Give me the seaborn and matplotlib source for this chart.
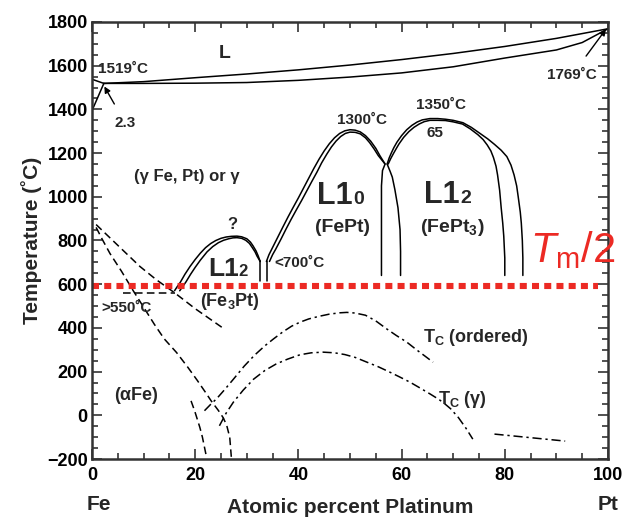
import matplotlib
matplotlib.use("Agg")
import matplotlib.pyplot as plt
import seaborn as sns

# liquidus / solidus (at.% Pt, deg C)
liquidus_x = [2.3, 10, 20, 30, 40, 50, 60, 70, 80, 90, 95, 100]
liquidus_t = [1519, 1527, 1545, 1562, 1581, 1603, 1628, 1656, 1688, 1725, 1747, 1769]
solidus_x = [2.3, 10, 20, 30, 40, 50, 60, 70, 80, 90, 95, 100]
solidus_t = [1519, 1519, 1520, 1523, 1533, 1548, 1567, 1595, 1635, 1672, 1706, 1769]
delta_lo_x = [0, 2.3]
delta_lo_t = [1394, 1519]
delta_hi_x = [0, 2.3]
delta_hi_t = [1538, 1519]

# Fe3Pt (L1_2) dome, two lines
fe3pt_a_x = [16.0, 16.5, 17.1, 18.0, 19.0, 20.0, 21.0, 22.0, 23.0, 24.0, 25.0, 26.0, 27.0,
             28.1, 29.0, 30.0, 30.7, 31.2, 31.8, 32.2, 32.6]
fe3pt_a_t = [570, 588, 608, 645, 681, 713, 742, 767, 786, 800, 810, 816, 819,
             820, 817, 808, 793, 776, 752, 730, 704]
fe3pt_b_x = [17.0, 17.6, 18.2, 19.1, 20.0, 21.0, 22.3, 23.4, 24.5, 25.5, 26.5, 27.3,
             28.1, 29.0, 29.8, 30.5, 31.0, 31.6, 32.0, 32.6]
fe3pt_b_t = [570, 590, 610, 645, 677, 710, 748, 772, 790, 801, 808, 812,
             813, 810, 801, 787, 770, 748, 728, 704]
vert1_x = [32.6, 32.6]
vert1_t = [704, 615]
vert2_x = [34.0, 34.0]
vert2_t = [704, 615]

# FePt (L1_0) dome
l10_a_x = [33.8, 34.3, 35.0, 36.0, 37.0, 38.0, 39.0, 40.0, 41.0, 42.0, 43.0, 44.0, 45.0,
           46.0, 47.0, 48.0, 49.0, 50.0, 51.0, 52.0, 53.0, 54.0, 55.0, 55.8, 56.8,
           56.3, 56.1, 56.1]
l10_a_t = [704, 735, 768, 815, 862, 908, 952, 995, 1040, 1085, 1130, 1172, 1210,
           1243, 1270, 1290, 1302, 1307, 1305, 1297, 1280, 1255, 1222, 1188, 1150,
           1120, 1050, 640]
l10_b_x = [34.4, 35.0, 35.6, 36.6, 37.6, 38.6, 39.6, 40.6, 41.6, 42.6, 43.6, 44.5, 45.5,
           46.4, 47.3, 48.2, 49.1, 50.0, 51.0, 52.0, 53.0, 53.8, 54.7, 55.5, 56.8]
l10_b_t = [704, 735, 760, 805, 852, 897, 940, 982, 1026, 1070, 1113, 1155, 1195,
           1228, 1255, 1276, 1290, 1296, 1295, 1288, 1270, 1248, 1218, 1188, 1150]

# FePt3 (L1_2) dome
fept3_a_x = [57.2, 57.6, 58.0, 58.5, 59.1, 60.0, 61.0, 62.0, 63.0, 64.0, 65.5, 67.0, 68.5,
             70.0, 71.9, 73.5, 75.2, 76.7, 78.0, 79.3, 80.4, 81.2, 81.8, 82.3, 82.6,
             83.0, 83.2, 83.4, 83.5, 83.5]
fept3_a_t = [1150, 1178, 1200, 1225, 1250, 1280, 1307, 1327, 1342, 1352, 1358, 1358, 1355,
             1350, 1339, 1318, 1290, 1265, 1240, 1213, 1184, 1145, 1100, 1050, 1000,
             930, 880, 800, 720, 640]
fept3_b_x = [57.4, 57.9, 58.4, 59.0, 59.5, 60.4, 61.4, 62.4, 63.4, 64.4, 65.5, 67.0, 68.5,
             70.0, 71.8, 73.3, 74.8, 75.8, 76.6, 77.3, 77.8, 78.3, 78.6, 79.0, 79.3,
             79.6, 79.8, 80.0, 80.0]
fept3_b_t = [1150, 1175, 1197, 1222, 1242, 1272, 1298, 1318, 1333, 1344, 1350, 1350, 1349,
             1343, 1333, 1311, 1284, 1262, 1237, 1210, 1180, 1140, 1100, 1030, 950,
             880, 820, 720, 640]
l12_left_x = [57.2, 57.8, 58.2, 58.7, 59.3, 59.7, 59.8, 59.8]
l12_left_t = [1150, 1115, 1090, 1033, 950, 850, 750, 640]

# dashed lines
dash_a_x = [0.8, 5.0, 9.3, 12.5, 16.0, 20.0, 25.7]
dash_a_t = [873, 778, 681, 620, 561, 488, 394]
dash_b_x = [0.8, 2.0, 3.5, 5.7, 8.0, 10.0, 12.1, 14.0, 16.4, 18.6, 20.4, 22.0, 23.1,
            24.5, 25.4, 26.1, 26.7, 27.0]
dash_b_t = [860, 805, 740, 660, 570, 495, 416, 350, 287, 219, 160, 105, 66,
            22, -10, -45, -101, -190]
dash_c_x = [19.2, 19.9, 20.5, 20.9, 21.4, 22.2]
dash_c_t = [66, 20, -25, -55, -100, -192]
dash_h_x = [6, 16]
dash_h_t = [562, 562]

# Curie temperatures (dash-dot)
tc_ord_x = [21.8, 23.0, 24.2, 25.8, 27.4, 29.5, 31.5, 33.5, 35.2, 37.0, 38.7, 40.3, 42.0,
            44.0, 46.0, 48.0, 49.4, 51.0, 53.0, 55.0, 57.2, 59.0, 61.0, 63.0, 64.7, 66.1]
tc_ord_t = [21, 50, 77, 120, 165, 225, 275, 318, 350, 382, 408, 426, 441,
            453, 463, 469, 471, 468, 458, 432, 394, 365, 335, 298, 268, 243]
tc_gam_x = [24.7, 26.0, 27.4, 29.3, 31.3, 33.5, 35.7, 37.9, 40.3, 42.5, 44.8, 47.0, 49.0,
            51.0, 53.3, 55.5, 57.5, 59.5, 61.6, 63.5, 65.5, 67.0, 68.0, 69.5, 71.0, 72.5, 73.8]
tc_gam_t = [-48, 10, 60, 115, 165, 205, 235, 257, 277, 286, 289, 286, 278,
            265, 243, 222, 200, 177, 152, 126, 98, 76, 60, 30, -10, -60, -109]
tc_tail_x = [78.0, 91.7]
tc_tail_t = [-86, -118]

# Tm/2 line
tm_half_x = [0, 98]
tm_half_t = [590, 590]

sns.set_style("ticks")
plt.rcParams['font.family'] = ['Liberation Sans', 'DejaVu Sans']
plt.rcParams['mathtext.fontset'] = 'custom'
plt.rcParams['mathtext.rm'] = 'Liberation Sans'
plt.rcParams['mathtext.it'] = 'Liberation Sans:italic'
plt.rcParams['mathtext.bf'] = 'Liberation Sans:bold'

fig = plt.figure(figsize=(6.33, 5.2), dpi=100)
ax = fig.add_axes([0.1453, 0.1173, 0.8152, 0.8404])

solid = dict(color='black', lw=1.1, sort=False, estimator=None, ax=ax)
dashed = dict(color='black', lw=1.1, sort=False, estimator=None, ax=ax, linestyle=(0, (5, 2.8)))
dashdot = dict(color='black', lw=1.1, sort=False, estimator=None, ax=ax, linestyle=(0, (6, 2.5, 1.5, 2.5)))

for xs, ts in [(liquidus_x, liquidus_t), (solidus_x, solidus_t),
               (delta_lo_x, delta_lo_t), (delta_hi_x, delta_hi_t),
               (fe3pt_a_x, fe3pt_a_t), (fe3pt_b_x, fe3pt_b_t),
               (vert1_x, vert1_t), (vert2_x, vert2_t),
               (l10_a_x, l10_a_t), (l10_b_x, l10_b_t),
               (fept3_a_x, fept3_a_t), (fept3_b_x, fept3_b_t),
               (l12_left_x, l12_left_t)]:
    sns.lineplot(x=xs, y=ts, **solid)

for xs, ts in [(dash_a_x, dash_a_t), (dash_b_x, dash_b_t),
               (dash_c_x, dash_c_t), (dash_h_x, dash_h_t)]:
    sns.lineplot(x=xs, y=ts, **dashed)

for xs, ts in [(tc_ord_x, tc_ord_t), (tc_gam_x, tc_gam_t), (tc_tail_x, tc_tail_t)]:
    sns.lineplot(x=xs, y=ts, **dashdot)

sns.lineplot(x=tm_half_x, y=tm_half_t, color='#ec2a24', lw=4.4, sort=False,
             estimator=None, ax=ax, linestyle=(0, (1.15, 0.85)))

# labels in the diagram
kw = dict(fontweight='bold', ha='center', va='center')
ax.text(25.8, 1658, "L", fontsize=14, **kw)
ax.text(6.0, 1584, "1519˚C", fontsize=11, **kw)
ax.annotate("2.3", xy=(2.4, 1505), xytext=(6.4, 1339), fontsize=11,
            fontweight='bold', ha='center', va='center',
            arrowprops=dict(arrowstyle='-|>', color='black', lw=1, shrinkA=7, shrinkB=0,
                            mutation_scale=9))
ax.annotate("1769˚C", xy=(99.6, 1767), xytext=(93, 1556), fontsize=11,
            fontweight='bold', ha='center', va='center',
            arrowprops=dict(arrowstyle='-|>', color='black', lw=1, shrinkA=8, shrinkB=0,
                            mutation_scale=9))
ax.text(18.4, 1092, "(γ Fe, Pt) or γ", fontsize=12, **kw)
ax.text(27.3, 875, "?", fontsize=12, **kw)
ax.text(35.3, 695, "<700˚C", fontsize=11, fontweight='bold', ha='left', va='center')
ax.text(1.8, 489, ">550˚C", fontsize=11, fontweight='bold', ha='left', va='center')
ax.text(52.3, 1352, "1300˚C", fontsize=11, **kw)
ax.text(67.6, 1421, "1350˚C", fontsize=11, **kw)
ax.text(66.5, 1293, "65", fontsize=11, **kw)

# L1_2 / L1_0 / L1_2 phase names
ax.text(28.4, 636, "L1", fontsize=19, fontweight='bold', ha='right', va='baseline')
ax.text(28.4, 636, "2", fontsize=12, fontweight='bold', ha='left', va='baseline')
ax.text(26.7, 521, r"(Fe$_\mathbf{3}$Pt)", fontsize=13, **kw)
ax.text(50.6, 969, "L1", fontsize=22, fontweight='bold', ha='right', va='baseline')
ax.text(50.6, 969, "0", fontsize=14, fontweight='bold', ha='left', va='baseline')
ax.text(48.6, 859, "(FePt)", fontsize=14, **kw)
ax.text(71.3, 973, "L1", fontsize=22, fontweight='bold', ha='right', va='baseline')
ax.text(71.3, 973, "2", fontsize=14, fontweight='bold', ha='left', va='baseline')
ax.text(69.8, 859, r"(FePt$_\mathbf{3}$)", fontsize=14, **kw)
ax.text(8.5, 92, "(αFe)", fontsize=13, **kw)
ax.text(64.1, 357, r"T$_\mathbf{C}$ (ordered)", fontsize=13, fontweight='bold', ha='left', va='center')
ax.text(67.0, 74, r"T$_\mathbf{C}$ ($\mathbf{\gamma}$)", fontsize=13, fontweight='bold', ha='left', va='center')
ax.text(84.9, 700, r"$\mathit{T}_{\mathrm{m}}\mathit{/2}$", fontsize=30, color='#ec2a24',
        ha='left', va='baseline')

# axes
ax.set_xlim(0, 100)
ax.set_ylim(-200, 1800)
ax.set_xticks(range(0, 101, 20))
ax.set_xticks(range(0, 101, 5), minor=True)
ax.set_yticks(range(-200, 1801, 200))
ax.set_yticks(range(-200, 1801, 50), minor=True)
ax.tick_params(which='both', direction='in', top=True, right=True, width=1.1, colors='#222222')
ax.tick_params(which='major', length=7, labelsize=13, pad=6)
ax.tick_params(which='minor', length=4)
ax.tick_params(axis='y', which='major', pad=3)
for lab in ax.get_xticklabels() + ax.get_yticklabels():
    lab.set_fontweight('bold')
    lab.set_color('black')
for sp in ax.spines.values():
    sp.set_linewidth(1.8)
    sp.set_color('#333333')

ax.set_xlabel("Atomic percent Platinum", fontsize=15, fontweight='bold', labelpad=10)
ax.set_ylabel("Temperature (˚C)", fontsize=15, fontweight='bold', labelpad=4)
ax.text(-1, -0.105, "Fe", transform=ax.get_xaxis_transform(), fontsize=15,
        fontweight='bold', ha='left', va='center')
ax.text(100, -0.105, "Pt", transform=ax.get_xaxis_transform(), fontsize=15,
        fontweight='bold', ha='center', va='center')

fig.savefig("out.png", dpi=100)
